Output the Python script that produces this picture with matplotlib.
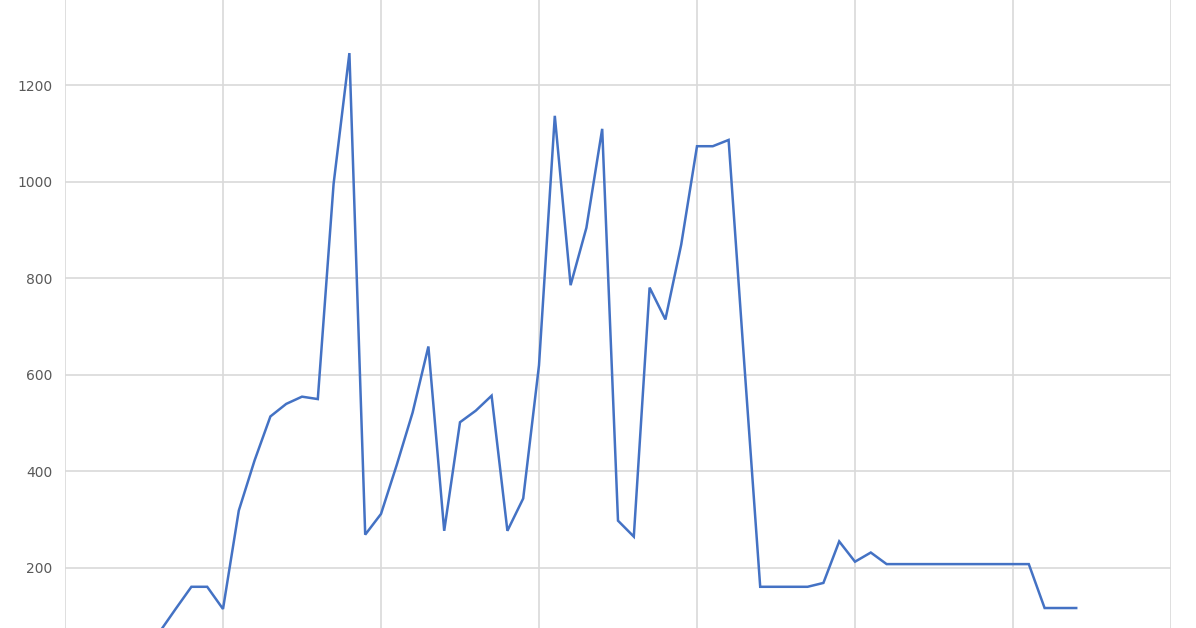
import numpy as np
import matplotlib
matplotlib.use('Agg')
import matplotlib.pyplot as plt

# =============================================================================
# Data
# =============================================================================
values = [
    70, 70, 70, 70, 70, 70, 68, 115, 161, 161,
    115, 319, 423, 514, 540, 555, 550, 996, 1267, 269,
    312, 414, 522, 659, 277, 502, 526, 557, 277, 344,
    620, 1137, 786, 905, 1110, 298, 265, 781, 715, 870,
    1074, 1074, 1087, 620, 161, 161, 161, 161, 169, 255,
    213, 232, 208, 208, 208, 208, 208, 208, 208, 208,
    208, 208, 117, 117, 117,
]
y_ticks = [200, 400, 600, 800, 1000, 1200]
x_grid = [0, 10, 20, 30, 40, 50, 60, 70]

# =============================================================================
# Plot
# =============================================================================
fig = plt.figure(figsize=(11.96, 6.28), dpi=100)
ax = fig.add_axes([65 / 1196, 0, (1171 - 65) / 1196, 1])

x = np.arange(len(values))
ax.plot(x, values, color='#4472C4', linewidth=1.8, solid_joinstyle='miter')

ax.set_xlim(0, 70)
ax.set_ylim(75.6, 1377)
ax.set_xticks(x_grid)
ax.set_yticks(y_ticks)
ax.set_yticklabels([str(v) for v in y_ticks])
ax.tick_params(axis='x', labelbottom=False, length=0)
ax.tick_params(axis='y', length=0, pad=9, labelsize=10, labelcolor='#595959')

ax.grid(True, color='#d9d9d9', linewidth=1.2)
ax.set_axisbelow(True)
for s in ax.spines.values():
    s.set_visible(False)

fig.savefig('out.png', dpi=100)
